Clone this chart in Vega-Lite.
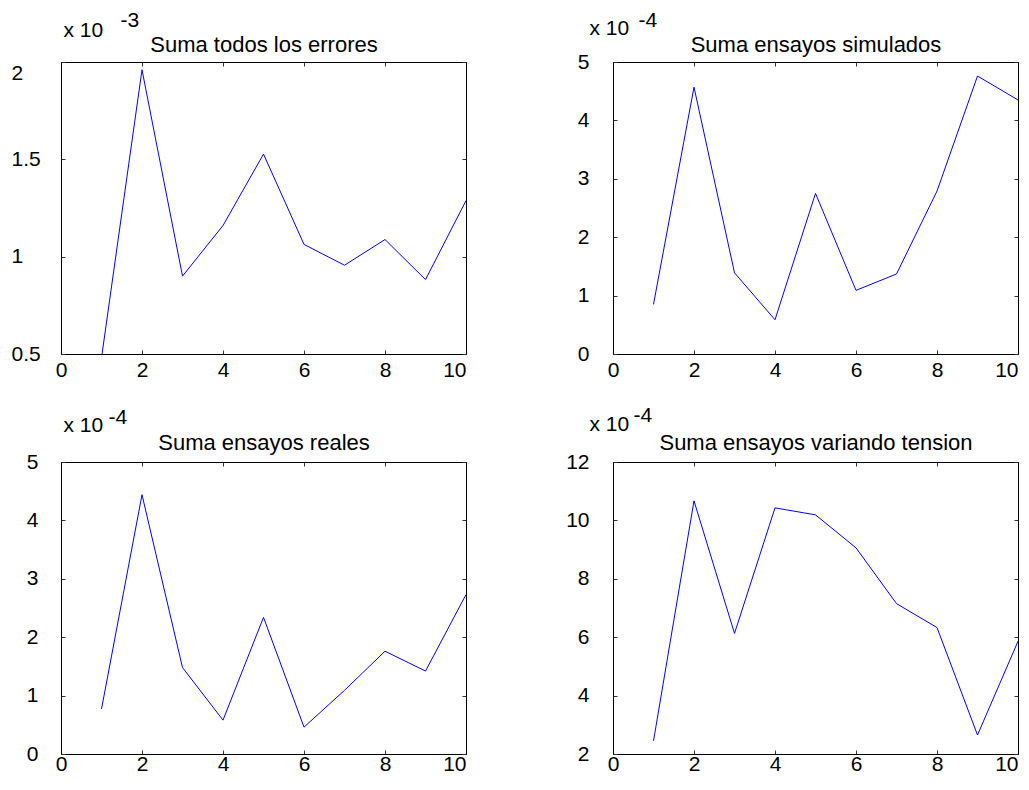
{
  "$schema": "https://vega.github.io/schema/vega-lite/v6.json",
  "autosize": {"type": "pad"},
  "padding": {"left": 10, "top": 8, "right": 0, "bottom": 0},
  "background": "white",
  "config": {
    "font": "Liberation Sans",
    "axis": {
      "labelFont": "Liberation Sans", "labelFontSize": 21, "labelColor": "#000",
      "titleFont": "Liberation Sans", "titleFontSize": 21, "titleFontWeight": "normal", "titleColor": "#000",
      "domainColor": "#000", "domainWidth": 1, "tickColor": "#333", "tickSize": -4, "tickWidth": 1, "grid": false
    },
    "view": {"stroke": "#000", "strokeWidth": 1}
  },
  "datasets": {
    "d": [
      {"serie": "todos", "ensayo": 1, "error": 0.00048},
      {"serie": "todos", "ensayo": 2, "error": 0.00196},
      {"serie": "todos", "ensayo": 3, "error": 0.00090},
      {"serie": "todos", "ensayo": 4, "error": 0.00116},
      {"serie": "todos", "ensayo": 5, "error": 0.001527},
      {"serie": "todos", "ensayo": 6, "error": 0.001063},
      {"serie": "todos", "ensayo": 7, "error": 0.000956},
      {"serie": "todos", "ensayo": 8, "error": 0.001088},
      {"serie": "todos", "ensayo": 9, "error": 0.000882},
      {"serie": "todos", "ensayo": 10, "error": 0.001288},
      {"serie": "simulados", "ensayo": 1, "error": 0.000085},
      {"serie": "simulados", "ensayo": 2, "error": 0.000457},
      {"serie": "simulados", "ensayo": 3, "error": 0.000139},
      {"serie": "simulados", "ensayo": 4, "error": 0.0000586},
      {"serie": "simulados", "ensayo": 5, "error": 0.000275},
      {"serie": "simulados", "ensayo": 6, "error": 0.000109},
      {"serie": "simulados", "ensayo": 7, "error": 0.000137},
      {"serie": "simulados", "ensayo": 8, "error": 0.000279},
      {"serie": "simulados", "ensayo": 9, "error": 0.000476},
      {"serie": "simulados", "ensayo": 10, "error": 0.000435},
      {"serie": "reales", "ensayo": 1, "error": 0.000077},
      {"serie": "reales", "ensayo": 2, "error": 0.000444},
      {"serie": "reales", "ensayo": 3, "error": 0.000148},
      {"serie": "reales", "ensayo": 4, "error": 0.000058},
      {"serie": "reales", "ensayo": 5, "error": 0.000234},
      {"serie": "reales", "ensayo": 6, "error": 0.000046},
      {"serie": "reales", "ensayo": 7, "error": 0.000109},
      {"serie": "reales", "ensayo": 8, "error": 0.000176},
      {"serie": "reales", "ensayo": 9, "error": 0.000142},
      {"serie": "reales", "ensayo": 10, "error": 0.000273},
      {"serie": "tension", "ensayo": 1, "error": 0.000245},
      {"serie": "tension", "ensayo": 2, "error": 0.001067},
      {"serie": "tension", "ensayo": 3, "error": 0.000613},
      {"serie": "tension", "ensayo": 4, "error": 0.001043},
      {"serie": "tension", "ensayo": 5, "error": 0.001019},
      {"serie": "tension", "ensayo": 6, "error": 0.000906},
      {"serie": "tension", "ensayo": 7, "error": 0.000715},
      {"serie": "tension", "ensayo": 8, "error": 0.000633},
      {"serie": "tension", "ensayo": 9, "error": 0.000265},
      {"serie": "tension", "ensayo": 10, "error": 0.000586}
    ]
  },
  "columns": 2,
  "spacing": {"row": 108, "column": 147},
  "bounds": "flush",
  "concat": [
    {
      "width": 405, "height": 292,
      "data": {"name": "d"},
      "transform": [{"filter": "datum.serie == 'todos'"}],
      "layer": [
        {
          "mark": {"type": "line", "color": "#0000ff", "strokeWidth": 1, "clip": true},
          "encoding": {
            "x": {"field": "ensayo", "type": "quantitative", "scale": {"domain": [0, 10], "nice": false},
              "axis": {"orient": "bottom", "values": [0, 2, 4, 6, 8, 10], "title": null, "labelFlush": false, "labelPadding": 9.5,
                "labelAlign": {"condition": {"test": "datum.value == 10", "value": "right"}, "value": "center"}}},
            "y": {"field": "error", "type": "quantitative", "scale": {"domain": [0.0005, 0.002], "nice": false, "zero": false},
              "axis": {"orient": "left", "values": [0.0005, 0.001, 0.0015, 0.002], "labelExpr": "format(datum.value*1000, '.1~f')",
                "labelAlign": "left", "labelPadding": 54,
                "labelBaseline": {"condition": {"test": "datum.value > 0.00195", "value": "top"}, "value": "middle"},
                "title": "x 10",
                "titleAngle": 0, "titleAlign": "left", "titleBaseline": "alphabetic", "titleX": 2, "titleY": -26}}
          }
        },
        {
          "mark": {"type": "line", "opacity": 0},
          "encoding": {
            "x": {"field": "ensayo", "type": "quantitative", "scale": {"domain": [0, 10], "nice": false},
              "axis": {"orient": "top", "values": [0, 2, 4, 6, 8, 10], "labels": false, "title": "Suma todos los errores", "titleFontSize": 22, "titleY": -11, "titleBaseline": "alphabetic"}},
            "y": {"field": "error", "type": "quantitative", "scale": {"domain": [0.0005, 0.002], "nice": false, "zero": false},
              "axis": {"orient": "right", "values": [0.0005, 0.001, 0.0015, 0.002], "labels": false,
                "title": "-3", "titleAngle": 0, "titleAlign": "left", "titleBaseline": "alphabetic", "titleX": -346, "titleY": -36}}
          }
        }
      ],
      "resolve": {"axis": {"x": "independent", "y": "independent"}}
    },
    {
      "width": 405, "height": 292,
      "data": {"name": "d"},
      "transform": [{"filter": "datum.serie == 'simulados'"}],
      "layer": [
        {
          "mark": {"type": "line", "color": "#0000ff", "strokeWidth": 1, "clip": true},
          "encoding": {
            "x": {"field": "ensayo", "type": "quantitative", "scale": {"domain": [0, 10], "nice": false},
              "axis": {"orient": "bottom", "values": [0, 2, 4, 6, 8, 10], "title": null, "labelFlush": false, "labelPadding": 9.5,
                "labelAlign": {"condition": {"test": "datum.value == 10", "value": "right"}, "value": "center"}}},
            "y": {"field": "error", "type": "quantitative", "scale": {"domain": [0, 0.0005], "nice": false, "zero": false},
              "axis": {"orient": "left", "values": [0, 0.0001, 0.0002, 0.0003, 0.0004, 0.0005], "labelExpr": "format(datum.value*10000, '.0f')",
                "labelAlign": "right", "labelPadding": 28, "labelBaseline": "middle",
                "title": "x 10",
                "titleAngle": 0, "titleAlign": "left", "titleBaseline": "alphabetic", "titleX": -24, "titleY": -28}}
          }
        },
        {
          "mark": {"type": "line", "opacity": 0},
          "encoding": {
            "x": {"field": "ensayo", "type": "quantitative", "scale": {"domain": [0, 10], "nice": false},
              "axis": {"orient": "top", "values": [0, 2, 4, 6, 8, 10], "labels": false, "title": "Suma ensayos simulados", "titleFontSize": 22, "titleY": -11, "titleBaseline": "alphabetic"}},
            "y": {"field": "error", "type": "quantitative", "scale": {"domain": [0, 0.0005], "nice": false, "zero": false},
              "axis": {"orient": "right", "values": [0, 0.0001, 0.0002, 0.0003, 0.0004, 0.0005], "labels": false,
                "title": "-4", "titleAngle": 0, "titleAlign": "left", "titleBaseline": "alphabetic", "titleX": -380, "titleY": -36}}
          }
        }
      ],
      "resolve": {"axis": {"x": "independent", "y": "independent"}}
    },
    {
      "width": 405, "height": 292,
      "data": {"name": "d"},
      "transform": [{"filter": "datum.serie == 'reales'"}],
      "layer": [
        {
          "mark": {"type": "line", "color": "#0000ff", "strokeWidth": 1, "clip": true},
          "encoding": {
            "x": {"field": "ensayo", "type": "quantitative", "scale": {"domain": [0, 10], "nice": false},
              "axis": {"orient": "bottom", "values": [0, 2, 4, 6, 8, 10], "title": null, "labelFlush": false, "labelPadding": 3.5,
                "labelAlign": {"condition": {"test": "datum.value == 10", "value": "right"}, "value": "center"}}},
            "y": {"field": "error", "type": "quantitative", "scale": {"domain": [0, 0.0005], "nice": false, "zero": false},
              "axis": {"orient": "left", "values": [0, 0.0001, 0.0002, 0.0003, 0.0004, 0.0005], "labelExpr": "format(datum.value*10000, '.0f')",
                "labelAlign": "right", "labelPadding": 27, "labelBaseline": "middle",
                "title": "x 10",
                "titleAngle": 0, "titleAlign": "left", "titleBaseline": "alphabetic", "titleX": 2, "titleY": -31}}
          }
        },
        {
          "mark": {"type": "line", "opacity": 0},
          "encoding": {
            "x": {"field": "ensayo", "type": "quantitative", "scale": {"domain": [0, 10], "nice": false},
              "axis": {"orient": "top", "values": [0, 2, 4, 6, 8, 10], "labels": false, "title": "Suma ensayos reales", "titleFontSize": 22, "titleY": -13, "titleBaseline": "alphabetic"}},
            "y": {"field": "error", "type": "quantitative", "scale": {"domain": [0, 0.0005], "nice": false, "zero": false},
              "axis": {"orient": "right", "values": [0, 0.0001, 0.0002, 0.0003, 0.0004, 0.0005], "labels": false,
                "title": "-4", "titleAngle": 0, "titleAlign": "left", "titleBaseline": "alphabetic", "titleX": -358, "titleY": -39}}
          }
        }
      ],
      "resolve": {"axis": {"x": "independent", "y": "independent"}}
    },
    {
      "width": 405, "height": 292,
      "data": {"name": "d"},
      "transform": [{"filter": "datum.serie == 'tension'"}],
      "layer": [
        {
          "mark": {"type": "line", "color": "#0000ff", "strokeWidth": 1, "clip": true},
          "encoding": {
            "x": {"field": "ensayo", "type": "quantitative", "scale": {"domain": [0, 10], "nice": false},
              "axis": {"orient": "bottom", "values": [0, 2, 4, 6, 8, 10], "title": null, "labelFlush": false, "labelPadding": 3.5,
                "labelAlign": {"condition": {"test": "datum.value == 10", "value": "right"}, "value": "center"}}},
            "y": {"field": "error", "type": "quantitative", "scale": {"domain": [0.0002, 0.0012], "nice": false, "zero": false},
              "axis": {"orient": "left", "values": [0.0002, 0.0004, 0.0006, 0.0008, 0.001, 0.0012], "labelExpr": "format(datum.value*10000, '.0f')",
                "labelAlign": "right", "labelPadding": 28, "labelBaseline": "middle",
                "title": "x 10",
                "titleAngle": 0, "titleAlign": "left", "titleBaseline": "alphabetic", "titleX": -24, "titleY": -32}}
          }
        },
        {
          "mark": {"type": "line", "opacity": 0},
          "encoding": {
            "x": {"field": "ensayo", "type": "quantitative", "scale": {"domain": [0, 10], "nice": false},
              "axis": {"orient": "top", "values": [0, 2, 4, 6, 8, 10], "labels": false, "title": "Suma ensayos variando tension", "titleFontSize": 22, "titleY": -13, "titleBaseline": "alphabetic"}},
            "y": {"field": "error", "type": "quantitative", "scale": {"domain": [0.0002, 0.0012], "nice": false, "zero": false},
              "axis": {"orient": "right", "values": [0.0002, 0.0004, 0.0006, 0.0008, 0.001, 0.0012], "labels": false,
                "title": "-4", "titleAngle": 0, "titleAlign": "left", "titleBaseline": "alphabetic", "titleX": -385, "titleY": -41}}
          }
        }
      ],
      "resolve": {"axis": {"x": "independent", "y": "independent"}}
    }
  ]
}
